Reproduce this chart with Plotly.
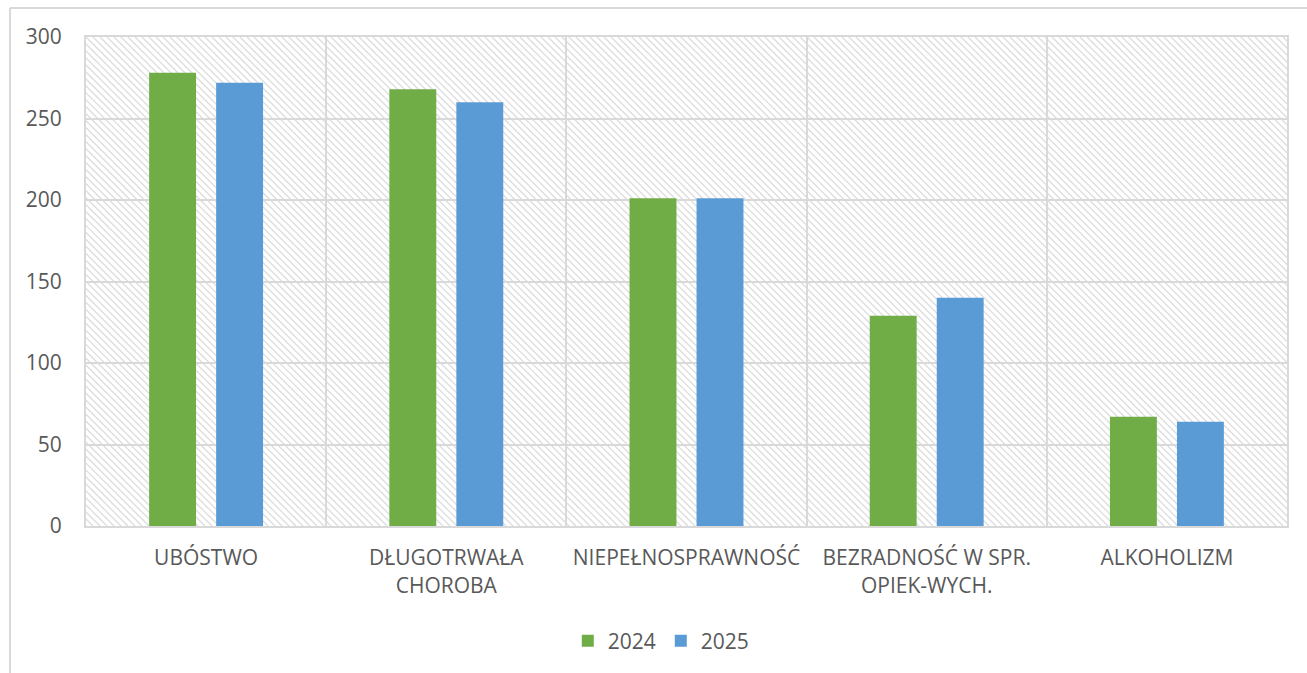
import base64
import plotly.graph_objects as go

categories = ["UBÓSTWO", "DŁUGOTRWAŁA<br>CHOROBA", "NIEPEŁNOSPRAWNOŚĆ",
              "BEZRADNOŚĆ W SPR.<br>OPIEK-WYCH.", "ALKOHOLIZM"]
series_names = ["2024", "2025"]
values_2024 = [278, 268, 201, 129, 67]
values_2025 = [272, 260, 201, 140, 64]
y_ticks = [0, 50, 100, 150, 200, 250, 300]

GREEN = "#70AD47"
BLUE = "#5B9BD5"
TEXT = "#595959"
GRID = "#d9d9d9"
FONT = "Open Sans, sans-serif"

W, H = 1307, 673
ML, MR, MT, MB = 86, 20, 37, 146
PW, PH = W - ML - MR, H - MT - MB

# hatched background pattern for the plot area
step = 7
lines = []
for k in range(-PH, PW + PH, step):
    lines.append(f'<line x1="{k}" y1="0" x2="{k + PH}" y2="{PH}"/>')
svg = (f'<svg xmlns="http://www.w3.org/2000/svg" width="{PW}" height="{PH}" '
       f'viewBox="0 0 {PW} {PH}">'
       f'<rect width="{PW}" height="{PH}" fill="white"/>'
       f'<g stroke="#dedede" stroke-width="1.4">' + "".join(lines) + '</g></svg>')
src = "data:image/svg+xml;base64," + base64.b64encode(svg.encode()).decode()

fig = go.Figure()
fig.add_trace(go.Bar(x=categories, y=values_2024, name=series_names[0],
                     marker=dict(color=GREEN, line=dict(width=0))))
fig.add_trace(go.Bar(x=categories, y=values_2025, name=series_names[1],
                     marker=dict(color=BLUE, line=dict(width=0))))

fig.update_layout(
    width=W, height=H,
    margin=dict(l=ML, r=MR, t=MT, b=MB, pad=0),
    paper_bgcolor="white", plot_bgcolor="white",
    barmode="group", bargap=0.442, bargroupgap=0.30,
    font=dict(family=FONT, color=TEXT, size=21),
    legend=dict(orientation="h", x=0.479, xanchor="center", y=-0.233, yanchor="middle",
                font=dict(size=21, color=TEXT), itemwidth=30, traceorder="normal"),
    showlegend=True,
    images=[dict(source=src, xref="paper", yref="paper", x=0, y=1, sizex=1, sizey=1,
                 xanchor="left", yanchor="top", sizing="stretch", layer="below")],
    shapes=[
        dict(type="line", xref="paper", yref="paper",
             x0=(10 - ML) / PW, x1=(10 - ML) / PW, y0=(H - MB - 8) / PH, y1=-0.4,
             line=dict(color=GRID, width=2)),
        dict(type="line", xref="paper", yref="paper",
             x0=(10 - ML) / PW, x1=1.1, y0=(H - MB - 8) / PH, y1=(H - MB - 8) / PH,
             line=dict(color=GRID, width=2)),
    ],
)
fig.update_xaxes(tickson="boundaries", showgrid=True, gridcolor=GRID, gridwidth=2,
                 showline=True, mirror=True, linecolor=GRID, linewidth=2,
                 ticks="", tickfont=dict(size=21, color=TEXT), ticklabelstandoff=12,
                 fixedrange=True)
fig.update_yaxes(range=[0, 300], tickvals=y_ticks, showgrid=True, gridcolor=GRID,
                 gridwidth=2, showline=True, mirror=True, linecolor=GRID, linewidth=2,
                 zeroline=False, ticks="", tickfont=dict(size=21, color=TEXT),
                 ticklabelstandoff=18, fixedrange=True)

fig.write_html("out.html", config={"displayModeBar": False},
               post_script="document.body.style.margin='0';document.body.style.overflow='hidden';")
